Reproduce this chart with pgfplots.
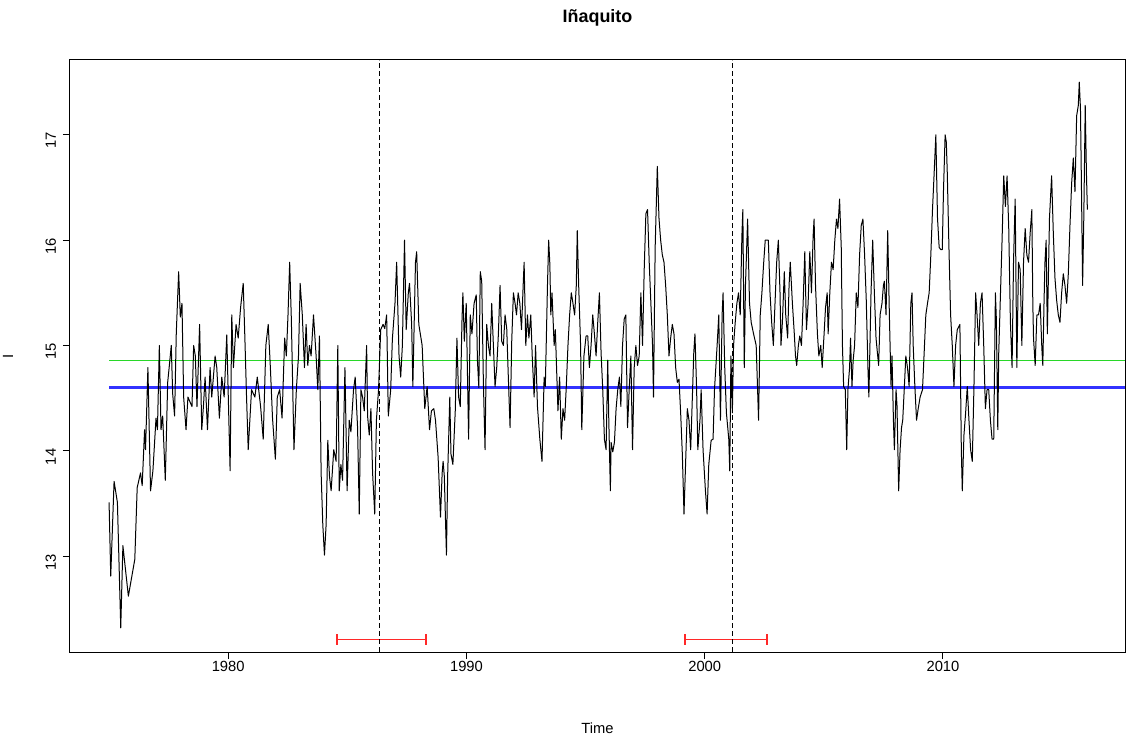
\documentclass[border=0pt]{standalone}
\usepackage{pgfplots}
\pgfplotsset{compat=1.18}
\usepackage{fontspec}
\setmainfont{Liberation Sans}

\definecolor{lvlgreen}{RGB}{40,215,40}
\definecolor{lvlblue}{RGB}{50,50,255}
\definecolor{cired}{RGB}{255,40,40}

\begin{document}
\begin{tikzpicture}
% picture frame in the reference's proportions (1 px = 0.5bp)
\path[use as bounding box] (-35bp,-43.5bp) rectangle (528.5bp,326bp);
\begin{axis}[
    scale only axis,
    width=527.5bp, height=296bp,
    xmin=1973.36, xmax=2017.64,
    ymin=12.09, ymax=17.71,
    xtick={1980,1990,2000,2010},
    ytick={13,14,15,16,17},
    xtick pos=bottom, ytick pos=left,
    tick align=outside,
    major tick length=3.5bp,
    every tick/.style={black, line width=0.5bp},
    axis line style={line width=0.5bp},
    /pgf/number format/assume math mode=true,
    /pgf/number format/1000 sep={},
    tick label style={font=\fontsize{7.4}{8}\selectfont},
    xticklabel style={yshift=2.5bp},
    yticklabel style={rotate=90, anchor=south, xshift=-3bp},
    xlabel={Time},
    label style={font=\fontsize{7.4}{8}\selectfont},
    xlabel style={at={(rel axis cs:0.5,0)}, anchor=center, yshift=-38bp},
    clip=true,
]
% two fitted levels
\addplot[lvlgreen, line width=0.7bp] coordinates {(1975,14.86) (2017.64,14.86)};
\addplot[lvlblue, line width=1.1bp] coordinates {(1975,14.60) (2017.64,14.60)};
% confidence intervals of the breakpoints
\addplot[cired, line width=0.85bp] coordinates {(1984.57,12.21) (1988.31,12.21)};
\addplot[cired, line width=0.85bp] coordinates {(1984.57,12.16) (1984.57,12.26)};
\addplot[cired, line width=0.85bp] coordinates {(1988.31,12.16) (1988.31,12.26)};
\addplot[cired, line width=0.85bp] coordinates {(1999.17,12.21) (2002.60,12.21)};
\addplot[cired, line width=0.85bp] coordinates {(1999.17,12.16) (1999.17,12.26)};
\addplot[cired, line width=0.85bp] coordinates {(2002.60,12.16) (2002.60,12.26)};
% breakpoints
\addplot[black, line width=0.5bp, dash pattern=on 2.5bp off 1.5bp] coordinates {(1986.33,12.09) (1986.33,17.71)};
\addplot[black, line width=0.5bp, dash pattern=on 2.5bp off 1.5bp] coordinates {(2001.17,12.09) (2001.17,17.71)};
% series
\addplot[black, line width=0.5bp, line join=round] table {
1975.00 13.51
1975.07 12.81
1975.21 13.71
1975.35 13.51
1975.49 12.32
1975.58 13.10
1975.81 12.62
1976.08 12.97
1976.18 13.65
1976.32 13.79
1976.39 13.67
1976.49 14.20
1976.53 14.01
1976.63 14.79
1976.74 13.62
1976.84 13.81
1976.97 14.31
1977.03 14.20
1977.11 15.00
1977.18 14.20
1977.25 14.33
1977.36 13.72
1977.46 14.65
1977.53 14.81
1977.61 15.00
1977.67 14.54
1977.75 14.33
1977.82 15.11
1977.92 15.70
1977.99 15.27
1978.06 15.40
1978.13 14.51
1978.23 14.20
1978.31 14.51
1978.48 14.42
1978.55 15.00
1978.62 14.90
1978.69 14.42
1978.80 15.20
1978.89 14.20
1978.96 14.42
1979.03 14.70
1979.13 14.20
1979.24 14.79
1979.31 14.51
1979.45 14.90
1979.52 14.79
1979.63 14.31
1979.73 14.70
1979.83 14.51
1979.94 15.10
1980.08 13.81
1980.15 15.29
1980.22 14.79
1980.33 15.20
1980.42 15.07
1980.52 15.36
1980.63 15.59
1980.70 15.07
1980.77 14.51
1980.84 14.01
1980.98 14.58
1981.12 14.51
1981.22 14.70
1981.36 14.42
1981.47 14.11
1981.58 15.00
1981.68 15.20
1981.77 14.79
1981.86 14.31
1981.98 13.92
1982.06 14.51
1982.16 14.58
1982.26 14.31
1982.37 15.07
1982.44 14.90
1982.51 15.29
1982.58 15.79
1982.65 15.25
1982.76 14.01
1982.86 14.58
1982.95 14.90
1983.02 15.59
1983.11 15.29
1983.20 14.79
1983.27 15.20
1983.34 14.81
1983.41 15.00
1983.48 14.90
1983.58 15.29
1983.69 14.90
1983.76 14.58
1983.83 15.09
1983.90 13.79
1983.97 13.30
1984.04 13.01
1984.11 13.30
1984.18 14.10
1984.25 13.76
1984.32 13.62
1984.43 14.01
1984.53 13.90
1984.60 15.00
1984.66 13.62
1984.73 13.87
1984.80 13.72
1984.90 14.79
1984.99 13.62
1985.08 14.29
1985.15 14.18
1985.26 14.58
1985.33 14.70
1985.43 14.22
1985.50 13.40
1985.57 14.58
1985.64 14.51
1985.71 14.38
1985.81 15.00
1985.85 14.33
1985.92 14.15
1985.99 14.40
1986.06 13.79
1986.15 13.40
1986.22 14.29
1986.31 14.58
1986.40 15.15
1986.50 15.20
1986.57 15.16
1986.65 15.29
1986.72 14.33
1986.82 14.58
1986.89 15.06
1987.00 15.40
1987.07 15.79
1987.17 14.90
1987.24 14.70
1987.31 15.00
1987.40 16.00
1987.47 15.15
1987.56 15.50
1987.61 15.59
1987.70 15.20
1987.75 14.61
1987.86 15.79
1987.91 15.89
1988.00 15.20
1988.14 15.00
1988.25 14.40
1988.35 14.61
1988.45 14.20
1988.53 14.38
1988.63 14.40
1988.70 14.29
1988.81 13.94
1988.91 13.37
1988.98 13.79
1989.02 13.90
1989.07 13.76
1989.16 13.01
1989.21 13.76
1989.30 14.51
1989.35 13.97
1989.43 13.87
1989.53 14.38
1989.60 15.07
1989.67 14.51
1989.74 14.42
1989.81 15.22
1989.85 15.50
1989.91 15.04
1989.99 15.40
1990.09 14.11
1990.16 15.29
1990.23 15.11
1990.32 15.40
1990.41 15.48
1990.46 14.86
1990.52 14.60
1990.58 15.70
1990.64 15.61
1990.71 14.65
1990.78 14.01
1990.85 15.20
1990.92 15.00
1990.99 14.90
1991.06 15.40
1991.13 15.00
1991.20 14.61
1991.27 14.79
1991.34 15.11
1991.41 15.57
1991.48 15.04
1991.55 15.00
1991.62 15.29
1991.69 15.16
1991.76 14.68
1991.83 14.22
1991.90 15.04
1991.97 15.50
1992.04 15.40
1992.10 15.29
1992.17 15.50
1992.24 15.40
1992.31 15.15
1992.38 15.57
1992.42 15.79
1992.49 15.00
1992.56 15.29
1992.62 15.07
1992.70 15.29
1992.76 14.90
1992.84 14.51
1992.90 15.00
1992.98 14.42
1993.08 14.11
1993.17 13.90
1993.26 14.70
1993.31 14.61
1993.40 15.57
1993.45 16.00
1993.50 15.77
1993.54 15.29
1993.59 15.50
1993.68 15.00
1993.73 15.15
1993.84 14.38
1993.91 14.70
1993.98 14.11
1994.05 14.40
1994.12 14.29
1994.19 14.61
1994.26 15.00
1994.33 15.29
1994.40 15.50
1994.47 15.40
1994.54 15.29
1994.61 15.57
1994.65 16.09
1994.71 15.57
1994.79 15.00
1994.84 14.20
1994.93 14.90
1995.02 15.09
1995.09 15.09
1995.16 14.79
1995.23 15.00
1995.30 15.29
1995.37 15.11
1995.44 14.90
1995.51 15.22
1995.58 15.50
1995.65 14.93
1995.72 14.58
1995.79 14.11
1995.86 14.01
1995.93 14.86
1995.97 14.33
1996.04 13.62
1996.07 14.08
1996.14 13.99
1996.21 14.08
1996.28 14.40
1996.35 14.58
1996.42 14.70
1996.48 14.42
1996.55 15.00
1996.62 15.25
1996.69 15.29
1996.76 14.22
1996.83 14.58
1996.90 14.90
1996.97 14.01
1997.04 14.79
1997.11 15.00
1997.18 14.81
1997.25 14.90
1997.32 15.50
1997.39 15.00
1997.46 15.72
1997.53 16.25
1997.60 16.29
1997.67 15.79
1997.74 15.40
1997.81 15.00
1997.85 14.51
1997.92 15.93
1998.01 16.70
1998.08 16.21
1998.15 16.00
1998.22 15.86
1998.29 15.79
1998.36 15.57
1998.43 15.29
1998.50 14.90
1998.57 15.07
1998.64 15.20
1998.71 15.11
1998.78 14.79
1998.85 14.65
1998.92 14.68
1998.99 14.36
1999.06 13.97
1999.13 13.40
1999.20 13.90
1999.27 14.40
1999.34 14.29
1999.41 14.01
1999.47 14.43
1999.54 14.93
1999.59 15.11
1999.66 14.58
1999.71 14.01
1999.80 14.29
1999.85 14.58
1999.93 14.01
2000.03 13.62
2000.10 13.40
2000.17 13.87
2000.27 14.10
2000.35 14.11
2000.41 14.58
2000.52 15.00
2000.59 15.29
2000.66 14.29
2000.73 15.29
2000.77 15.50
2000.84 14.79
2000.91 14.36
2001.01 14.11
2001.05 13.81
2001.10 14.90
2001.16 14.36
2001.21 15.00
2001.28 15.22
2001.35 15.40
2001.42 15.50
2001.49 15.29
2001.56 16.04
2001.60 16.29
2001.66 14.79
2001.71 15.57
2001.80 16.20
2001.88 15.40
2001.95 15.22
2002.05 15.11
2002.16 15.00
2002.26 14.29
2002.33 15.29
2002.40 15.50
2002.47 15.77
2002.54 16.00
2002.60 16.00
2002.67 16.00
2002.74 15.50
2002.81 15.22
2002.88 15.00
2002.95 15.40
2003.02 15.79
2003.09 16.00
2003.16 15.50
2003.20 15.00
2003.26 15.22
2003.34 15.70
2003.40 15.29
2003.48 15.07
2003.54 15.57
2003.59 15.79
2003.68 15.40
2003.76 15.11
2003.81 14.90
2003.86 14.81
2003.93 15.00
2003.99 15.09
2004.06 15.00
2004.13 15.40
2004.20 15.89
2004.27 15.15
2004.34 15.40
2004.41 15.89
2004.48 15.50
2004.55 16.04
2004.59 16.20
2004.65 15.57
2004.73 15.11
2004.79 14.90
2004.87 15.00
2004.93 14.79
2005.01 15.11
2005.07 15.36
2005.14 15.50
2005.18 15.11
2005.25 15.50
2005.32 15.79
2005.39 15.72
2005.46 16.00
2005.53 16.20
2005.59 16.11
2005.66 16.39
2005.73 15.93
2005.78 15.00
2005.83 14.61
2005.90 14.58
2005.96 14.01
2006.01 14.58
2006.08 14.79
2006.12 15.07
2006.18 14.61
2006.23 14.86
2006.29 15.00
2006.36 15.50
2006.43 15.36
2006.50 15.86
2006.57 16.14
2006.64 16.20
2006.71 15.86
2006.78 15.43
2006.85 14.79
2006.89 14.51
2006.98 15.50
2007.05 16.00
2007.12 15.50
2007.19 15.07
2007.26 14.90
2007.30 14.81
2007.36 15.29
2007.44 15.40
2007.50 15.57
2007.54 15.61
2007.61 15.29
2007.68 16.09
2007.75 15.29
2007.82 14.61
2007.86 14.90
2007.92 14.29
2007.96 14.01
2008.03 14.58
2008.07 14.43
2008.14 13.62
2008.20 14.01
2008.26 14.22
2008.31 14.29
2008.38 14.61
2008.44 14.90
2008.51 14.79
2008.58 14.61
2008.65 15.40
2008.70 15.50
2008.75 15.00
2008.82 14.61
2008.89 14.29
2008.96 14.40
2009.04 14.51
2009.14 14.58
2009.21 14.93
2009.28 15.29
2009.35 15.40
2009.42 15.50
2009.49 15.86
2009.56 16.29
2009.63 16.64
2009.70 17.00
2009.77 16.21
2009.84 15.93
2009.91 15.91
2009.97 15.91
2010.02 16.46
2010.09 17.00
2010.14 16.93
2010.18 16.64
2010.25 15.93
2010.32 15.29
2010.39 15.00
2010.46 14.61
2010.53 15.00
2010.60 15.15
2010.71 15.20
2010.77 14.01
2010.81 13.62
2010.88 14.15
2010.95 14.36
2011.02 14.61
2011.09 14.29
2011.16 14.01
2011.23 13.90
2011.30 14.61
2011.37 15.50
2011.43 15.29
2011.50 15.00
2011.57 15.40
2011.64 15.50
2011.71 15.00
2011.78 14.40
2011.85 14.58
2011.92 14.58
2011.99 14.29
2012.06 14.11
2012.13 14.11
2012.20 15.50
2012.24 15.25
2012.30 14.20
2012.34 14.93
2012.41 15.47
2012.48 16.00
2012.55 16.61
2012.62 16.32
2012.69 16.61
2012.76 16.11
2012.83 15.22
2012.90 14.79
2012.96 15.79
2013.03 16.39
2013.10 14.79
2013.17 15.79
2013.24 15.72
2013.31 15.00
2013.38 15.79
2013.45 16.11
2013.52 15.86
2013.59 15.79
2013.66 16.07
2013.73 16.29
2013.77 15.40
2013.80 15.07
2013.87 14.81
2013.94 15.29
2014.01 15.29
2014.08 15.40
2014.15 14.97
2014.19 14.81
2014.24 15.40
2014.28 15.79
2014.33 16.00
2014.38 15.11
2014.47 16.21
2014.56 16.61
2014.63 16.07
2014.70 15.64
2014.77 15.43
2014.84 15.29
2014.91 15.22
2014.98 15.50
2015.05 15.68
2015.12 15.57
2015.19 15.40
2015.26 15.68
2015.33 16.14
2015.40 16.54
2015.47 16.78
2015.54 16.46
2015.61 17.18
2015.68 17.28
2015.72 17.50
2015.77 17.25
2015.81 16.54
2015.86 15.57
2015.91 16.21
2015.97 17.28
2016.02 16.64
2016.06 16.29
};
\end{axis}
\node[font=\bfseries\fontsize{9}{10}\selectfont] at (263.75bp,317bp) {Iñaquito};
\node[font=\fontsize{7.4}{8}\selectfont, rotate=90] at (-31bp,148bp) {I};
\end{tikzpicture}
\end{document}
